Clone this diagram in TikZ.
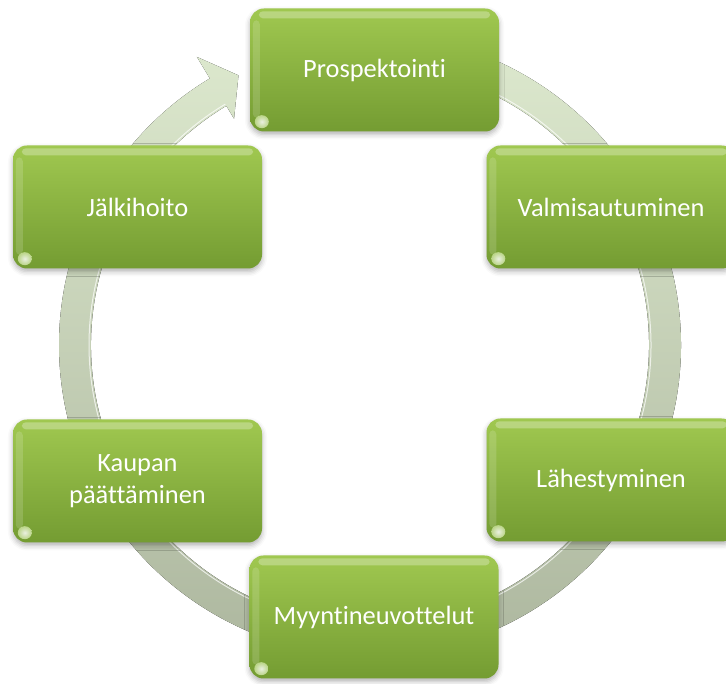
\documentclass[tikz,border=0pt]{standalone}
\usepackage{fontspec}
\setmainfont{Carlito}[Ligatures=NoCommon]
\usetikzlibrary{calc,shadows.blur}
\definecolor{gtop}{RGB}{160,200,80}
\definecolor{gmid}{RGB}{141,183,63}
\definecolor{gbot}{RGB}{116,156,50}
\definecolor{ringtop}{RGB}{222,234,207}
\definecolor{ringmid}{RGB}{198,210,182}
\definecolor{ringbot}{RGB}{172,182,158}
\begin{document}
\begin{tikzpicture}[x=1pt,y=1pt,
  box/.style={rounded corners=14pt, top color=gtop, middle color=gmid, bottom color=gbot,
    text=white, font=\fontsize{26.4}{31.5}\selectfont, align=center,
    minimum width=249pt, minimum height=123pt, inner sep=0pt,
    blur shadow={shadow xshift=0pt, shadow yshift=-3pt, shadow opacity=30, shadow blur radius=5pt}},
  gloss/.style={fill=white, opacity=0.28},
  glint/.style={inner color=white, outer color=gtop!60!white, opacity=0.85}
]
\useasboundingbox (0,0) rectangle (726,684);
\coordinate (c) at (370,339);

% circular arrow running clockwise behind the steps
\fill[top color=ringtop, middle color=ringmid, bottom color=ringbot]
  ($(c)+(95:311)$) arc[start angle=95, end angle=-239, radius=311]
  -- ($(c)+(-239:336)$) -- ($(c)+(-244:300)$) -- ($(c)+(-239:264)$)
  -- ($(c)+(-239:279)$) arc[start angle=-239, end angle=95, radius=279] -- cycle;
\draw[white, line width=1pt, opacity=.7]
  ($(c)+(95:281)$) arc[start angle=95, end angle=-239, radius=281];

% process steps
\node[box] (pros) at (374.5,614) {Prospektointi};
\node[box] (valm) at (611,477) {Valmisautuminen};
\node[box] (lahe) at (611,204) {Lähestyminen};
\node[box] (myyn) at (374,67) {Myyntineuvottelut};
\node[box] (kaup) at (137.5,203) {Kaupan\\päättäminen};
\node[box] (jalk) at (137.5,477) {Jälkihoito};

% glossy highlights on each step
\foreach \n in {pros,valm,lahe,myyn,kaup,jalk}{
  \fill[gloss, rounded corners=4pt] ($(\n.north west)+(9,-3)$) rectangle ($(\n.north east)+(-9,-10)$);
  \fill[gloss, opacity=.15, rounded corners=4pt] ($(\n.north west)+(3,-12)$) rectangle ($(\n.south west)+(10,14)$);
  \shade[glint] ($(\n.south west)+(12,10)$) ellipse[x radius=7, y radius=6.5];
}
\end{tikzpicture}
\end{document}
